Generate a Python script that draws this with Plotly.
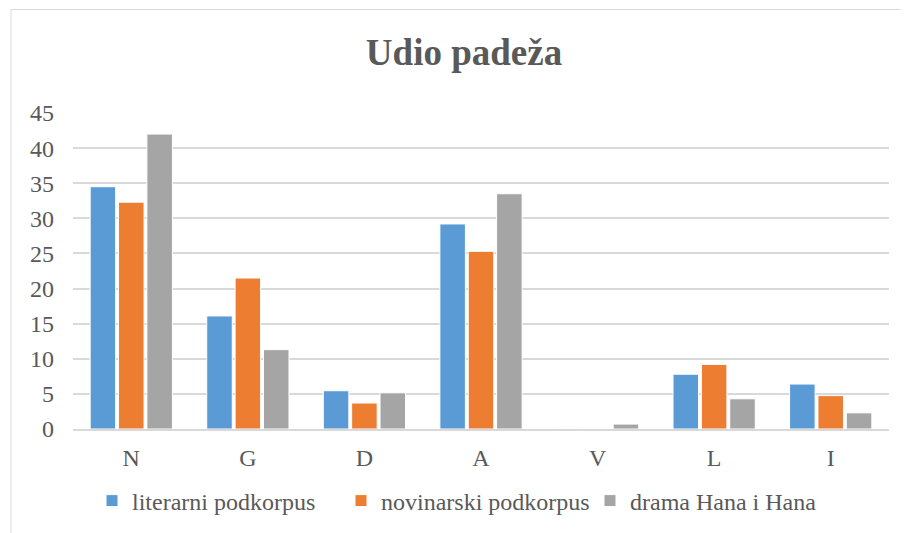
import plotly.graph_objects as go

categories = ["N", "G", "D", "A", "V", "L", "I"]
literarni = [34.5, 16.1, 5.45, 29.2, 0.05, 7.8, 6.4]
novinarski = [32.3, 21.5, 3.7, 25.3, 0.0, 9.2, 4.75]
drama = [42.0, 11.3, 5.15, 33.5, 0.7, 4.3, 2.3]
series_names = ["literarni podkorpus", "novinarski podkorpus", "drama Hana i Hana"]
colors = ["#5B9BD5", "#ED7D31", "#A5A5A5"]
y_ticks = [0, 5, 10, 15, 20, 25, 30, 35, 40, 45]

FONT = "Liberation Serif"
TXT = "#595959"

fig = go.Figure()
for name, vals, col in zip(series_names, [literarni, novinarski, drama], colors):
    fig.add_trace(go.Bar(
        x=categories, y=vals, name=name,
        marker=dict(color=col, line=dict(color="white", width=1)),
    ))

# page has an 8px body margin, so the figure is drawn 8px smaller/shifted
W, H = 900, 525
L, R, T, B = 65, 19, 105, 104
pw, ph = W - L - R, H - T - B

def px(x):
    return (x - L) / pw

def py(y):
    return (H - B - y) / ph

fig.update_layout(
    width=W, height=H,
    margin=dict(l=L, r=R, t=T, b=B, autoexpand=False),
    paper_bgcolor="white", plot_bgcolor="white",
    barmode="group", bargap=0.27, bargroupgap=0.1,
    font=dict(family=FONT, color=TXT, size=24),
    title=dict(text="<b>Udio padeža</b>", x=px(456), xanchor="center", xref="paper",
               y=1 - 44 / H, yanchor="middle",
               font=dict(family=FONT, size=37, color=TXT)),
    legend=dict(orientation="h", x=px(84), xanchor="left",
                y=py(493), yanchor="middle",
                font=dict(family=FONT, size=24, color=TXT),
                itemwidth=30, traceorder="normal",
                entrywidth=204, entrywidthmode="pixels"),
    xaxis=dict(showgrid=False, showline=True, linecolor="#D9D9D9", linewidth=1.5,
               ticks="", ticklabelstandoff=6,
               tickfont=dict(family=FONT, size=24, color=TXT)),
    yaxis=dict(range=[0, 45], tickvals=y_ticks, showgrid=True, gridcolor="#D9D9D9",
               gridwidth=1.5, zeroline=False, showline=False, ticks="",
               ticklabelstandoff=18,
               tickfont=dict(family=FONT, size=24, color=TXT)),
    shapes=[
        dict(type="line", xref="paper", yref="paper", x0=px(3), x1=px(3),
             y0=py(1.5), y1=py(540), line=dict(color="#D9D9D9", width=1)),
        dict(type="line", xref="paper", yref="paper", x0=px(3), x1=px(910),
             y0=py(1.5), y1=py(1.5), line=dict(color="#D9D9D9", width=1)),
    ],
)

fig.write_html("out.html")
